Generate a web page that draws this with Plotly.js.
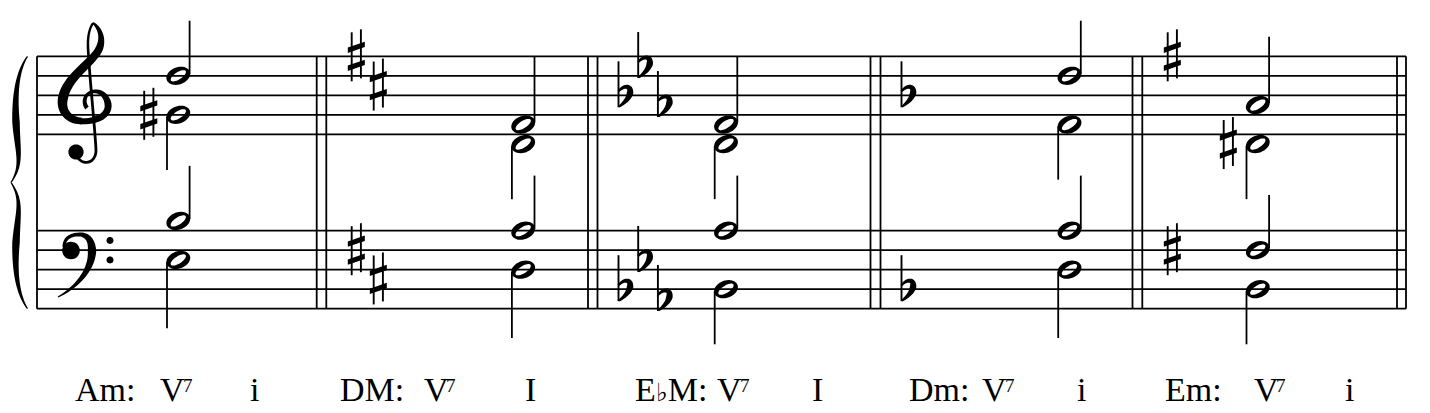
<!DOCTYPE html>
<html><head><meta charset="utf-8">
<script src="https://cdn.plot.ly/plotly-3.0.1.min.js"></script>
<style>html,body{margin:0;padding:0;background:#fff;overflow:hidden}#chart{width:1430px;height:413px}</style>
</head><body><div id="chart"></div>
<script>
// ---------------- data ----------------
const keyNames        = ["Am:", "DM:", "E<span style=\"font-size:25px\">\u266D</span>M:", "Dm:", "Em:"];
const keySignatures   = [0, 2, -3, -1, 1];            // + = sharps, - = flats
const trebleUpper     = ["D5", "F#4", "F4", "D5", "A4"];
const trebleLower     = ["G#4", "D4", "D4", "F4", "D#4"];
const bassUpper       = ["B3", "A3", "Ab3", "A3", "F#3"];
const bassLower       = ["E3", "D3", "Bb2", "D3", "B2"];
const dominantLabels  = ["V", "V", "V", "V", "V"];
const dominantFigures = ["7", "7", "7", "7", "7"];
const tonicLabels     = ["i", "I", "I", "i", "i"];

// ---------------- layout (positions / sizes) ----------------
const W = 1430, H = 413;
const SP = 19.5, STEP = SP / 2;
const staffBottom = {treble: 134.3, bass: 308.7};
const staffLeft = 37, staffRight = 1406;
const barlines = [[316.7, 326.3], [588, 597.5], [870.5, 880.5], [1132.5, 1142.3], [1397, 1406]];
const noteX = [178.3, 523.2, 726, 1069.5, 1257.8];
const labelX = [[73.3, 158.3, 248.3], [338.3, 421.7, 523.3], [633.3, 715, 810], [906.7, 980, 1075], [1163.3, 1251.7, 1343.3]];
const LW = 1.8;
const INK = "#000000";

// ---------------- helpers ----------------
const LETTERS = "CDEFGAB";
function parsePitch(p) {
  let rest = p.slice(1), acc = "";
  if (rest[0] === "#" || rest[0] === "b") { acc = rest[0]; rest = rest.slice(1); }
  return {letter: p[0], acc: acc, oct: parseInt(rest, 10)};
}
const staffBase = {treble: 4 * 7 + 2, bass: 2 * 7 + 4};
function stepOf(p, clef) { const q = parsePitch(p); return q.oct * 7 + LETTERS.indexOf(q.letter) - staffBase[clef]; }
function yOf(step, clef) { return staffBottom[clef] - step * STEP; }
const SHARP_ORDER = "FCGDAEB", FLAT_ORDER = "BEADGCF";
function keyAcc(letter, ks) {
  if (ks > 0 && SHARP_ORDER.indexOf(letter) < ks) return "#";
  if (ks < 0 && FLAT_ORDER.indexOf(letter) < -ks) return "b";
  return "";
}
const keySteps = {
  treble: {"#": [8, 5, 9, 6, 3, 7, 4], "b": [4, 7, 3, 6, 2, 5, 1]},
  bass:   {"#": [6, 3, 7, 4, 1, 5, 2], "b": [2, 5, 1, 4, 0, 3, -1]}
};

const f = v => v.toFixed(2);
function polyPath(pts) { return "M " + pts.map(p => f(p[0]) + "," + f(p[1])).join(" L ") + " Z"; }
function ellipsePts(cx, cy, rx, ry, th, n, rev) {
  const pts = [];
  for (let k = 0; k < n; k++) {
    let t = 2 * Math.PI * k / n; if (rev) t = -t;
    const c = Math.cos(t), s = Math.sin(t);
    pts.push([cx + rx * c * Math.cos(th) - ry * s * Math.sin(th), cy + rx * c * Math.sin(th) + ry * s * Math.cos(th)]);
  }
  return pts;
}
// variable width stroke built from cubic bezier segments [[p0,p1,p2,p3,w0,w1],...]
function strokePath(segs, tr) {
  const left = [], right = [];
  segs.forEach((sg, si) => {
    const [p0, p1, p2, p3, w0, w1] = sg.map((v, i) => i < 4 ? tr(v) : v);
    const n = 18;
    for (let k = (si === 0 ? 0 : 1); k <= n; k++) {
      const t = k / n, u = 1 - t;
      const x = u*u*u*p0[0] + 3*u*u*t*p1[0] + 3*u*t*t*p2[0] + t*t*t*p3[0];
      const y = u*u*u*p0[1] + 3*u*u*t*p1[1] + 3*u*t*t*p2[1] + t*t*t*p3[1];
      let dx = 3*u*u*(p1[0]-p0[0]) + 6*u*t*(p2[0]-p1[0]) + 3*t*t*(p3[0]-p2[0]);
      let dy = 3*u*u*(p1[1]-p0[1]) + 6*u*t*(p2[1]-p1[1]) + 3*t*t*(p3[1]-p2[1]);
      const L = Math.hypot(dx, dy) || 1; dx /= L; dy /= L;
      const w = (w0 + (w1 - w0) * t) / 2;
      left.push([x - dy * w, y + dx * w]);
      right.push([x + dy * w, y - dx * w]);
    }
  });
  return polyPath(left.concat(right.reverse()));
}
function circlePath(cx, cy, r) { return polyPath(ellipsePts(cx, cy, r, r, 0, 28, false)); }

const shapes = [];
function fillShape(path) { shapes.push({type: "path", xref: "x", yref: "y", path: path, fillcolor: INK, line: {width: 0}, layer: "above"}); }
function lineShape(x0, y0, x1, y1, w) { shapes.push({type: "line", xref: "x", yref: "y", x0: x0, y0: y0, x1: x1, y1: y1, line: {color: INK, width: w || LW}, layer: "above"}); }

// ---------------- staff, barlines ----------------
["treble", "bass"].forEach(cl => { for (let i = 0; i < 5; i++) lineShape(staffLeft, yOf(2 * i, cl), staffRight, yOf(2 * i, cl)); });
const sysTop = yOf(8, "treble"), sysBot = yOf(0, "bass");
lineShape(staffLeft, sysTop, staffLeft, sysBot);
barlines.forEach(b => { lineShape(b[0], sysTop, b[0], sysBot); lineShape(b[1], sysTop, b[1], sysBot); });

// ---------------- brace ----------------
(function () {
  const mid = (sysTop + sysBot) / 2;
  const up = [
    [[27.5, sysTop], [17, sysTop + 15], [14.5, sysTop + 40], [16, sysTop + 66], 1.2, 7.5],
    [[16, sysTop + 66], [17.5, sysTop + 96], [23, mid - 18], [11, mid], 7.5, 1.2]
  ];
  fillShape(strokePath(up, p => p));
  fillShape(strokePath(up, p => [p[0], 2 * mid - p[1]]));
})();

// ---------------- clefs ----------------
(function () {
  const ax = 80, ay = yOf(2, "treble");       // G line
  const tr = p => [ax + p[0] - 80, ay + p[1] - 114.8];
  // spine with bottom hook and thin left side of the top loop
  fillShape(strokePath([
    [[78, 158], [84, 166], [96, 163], [96, 150], 2.8, 2.8],
    [[96, 150], [95, 130], [90, 80], [89, 62], 2.8, 2.8],
    [[89, 62], [88, 48], [86, 34], [93, 23], 2.8, 2.2]
  ], tr));
  // right side of the top loop, diagonal and bowl
  fillShape(strokePath([
    [[93, 23], [100, 28], [103.5, 38], [99.5, 48], 2.2, 7.5],
    [[99.5, 48], [94, 62], [67, 76], [63, 98], 7.5, 10],
    [[63, 98], [60, 112], [70, 121], [82, 121], 10, 6.5]
  ], tr));
  // spiral
  fillShape(strokePath([
    [[80, 121.3], [99, 122], [109.5, 114], [108, 104], 6, 7],
    [[108, 104], [106.5, 94], [98, 89.5], [91, 92], 7, 3],
    [[91, 92], [84, 95], [83, 103], [87, 108], 3, 4.5]
  ], tr));
  const b = tr([76, 152]); fillShape(circlePath(b[0], b[1], 7.6));

  const bx = 70, by = yOf(6, "bass");          // F line
  const tb = p => [bx + p[0] - 70, by + p[1] - 250.2];
  fillShape(strokePath([
    [[64, 247], [64, 238], [71, 234.5], [79, 234.5], 3, 3.8],
    [[79, 234.5], [88, 234.5], [92, 241], [92, 251], 3.8, 8.5],
    [[92, 251], [92, 268], [79, 286], [58, 297], 8.5, 1.2]
  ], tb));
  const h = tb([71, 250.5]); fillShape(circlePath(h[0], h[1], 8.8));
  fillShape(circlePath(bx + 40, yOf(7, "bass"), 3.5));
  fillShape(circlePath(bx + 40, yOf(5, "bass"), 3.5));
})();

// ---------------- accidentals ----------------
function drawSharp(cx, cy) {
  lineShape(cx - 4.6, cy - 24, cx - 4.6, cy + 25, 1.9);
  lineShape(cx + 4.6, cy - 27, cx + 4.6, cy + 22, 1.9);
  [cy - 9, cy + 9].forEach(yc => fillShape(polyPath([[cx - 8.5, yc + 0.2], [cx + 8.5, yc - 5.6], [cx + 8.5, yc - 0.2], [cx - 8.5, yc + 5.6]])));
}
function drawFlat(x0, cy) {
  lineShape(x0, cy - 34, x0, cy + 12, 1.9);
  fillShape(strokePath([
    [[x0, cy - 4], [x0 + 6, cy - 11], [x0 + 13, cy - 9.5], [x0 + 11.5, cy - 2], 2.2, 6.5],
    [[x0 + 11.5, cy - 2], [x0 + 10, cy + 4], [x0 + 5, cy + 8], [x0 + 0.5, cy + 11.5], 6.5, 2]
  ], p => p));
}
keySignatures.forEach((ks, m) => {
  if (!ks) return;
  const start = m === 0 ? staffLeft : barlines[m - 1][1];
  const kind = ks > 0 ? "#" : "b";
  for (let i = 0; i < Math.abs(ks); i++) {
    ["treble", "bass"].forEach(cl => {
      const y = yOf(keySteps[cl][kind][i], cl);
      if (kind === "#") drawSharp(start + 30 + i * 22, y);
      else drawFlat(start + 21 + i * 19.7, y);
    });
  }
});

// ---------------- notes ----------------
const stemX = [], stemY = [];
function drawNote(pitch, clef, m, up) {
  const cx = noteX[m], step = stepOf(pitch, clef), cy = yOf(step, clef);
  const ring = polyPath(ellipsePts(cx, cy, 12.3, 8.6, -20 * Math.PI / 180, 40, false)) + " " +
               polyPath(ellipsePts(cx, cy, 8.8, 3.6, -33 * Math.PI / 180, 40, true));
  fillShape(ring);
  const short = (up && step > 4) || (!up && step < 4);
  const len = (short ? 5.65 : 7) * STEP;
  const sx = up ? cx + 11.3 : cx - 11.3;
  stemX.push(sx, sx, null);
  stemY.push(up ? cy - 2 : cy + 2, up ? cy - len : cy + len, null);
  const q = parsePitch(pitch);
  if (q.acc !== keyAcc(q.letter, keySignatures[m])) {
    if (q.acc === "#") drawSharp(cx - 29.5, cy);
    else if (q.acc === "b") drawFlat(cx - 36, cy);
  }
}
for (let m = 0; m < noteX.length; m++) {
  drawNote(trebleUpper[m], "treble", m, true);
  drawNote(trebleLower[m], "treble", m, false);
  drawNote(bassUpper[m], "bass", m, true);
  drawNote(bassLower[m], "bass", m, false);
}

// ---------------- labels ----------------
const annotations = [];
const txt = (x, y, s, size) => annotations.push({x: x, y: y, xref: "x", yref: "y", text: s, showarrow: false,
  xanchor: "left", yanchor: "middle", font: {family: "Liberation Serif, serif", size: size, color: INK}});
for (let m = 0; m < keyNames.length; m++) {
  txt(labelX[m][0], 389.5, keyNames[m], 34);
  txt(labelX[m][1], 389.5, dominantLabels[m], 34);
  txt(labelX[m][1] + 22.5, 385.5, dominantFigures[m], 19);
  txt(labelX[m][2], 389.5, tonicLabels[m], 34);
}

const traces = [{
  type: "scatter", mode: "lines", x: stemX, y: stemY,
  line: {color: INK, width: LW}, hoverinfo: "skip", showlegend: false
}];
const layout = {
  width: W, height: H, margin: {l: 0, r: 0, t: 0, b: 0},
  paper_bgcolor: "#ffffff", plot_bgcolor: "#ffffff", showlegend: false,
  xaxis: {range: [0, W], visible: false, fixedrange: true},
  yaxis: {range: [H, 0], visible: false, fixedrange: true},
  shapes: shapes, annotations: annotations, hovermode: false
};
Plotly.newPlot("chart", traces, layout, {staticPlot: true, displayModeBar: false});
</script></body></html>
